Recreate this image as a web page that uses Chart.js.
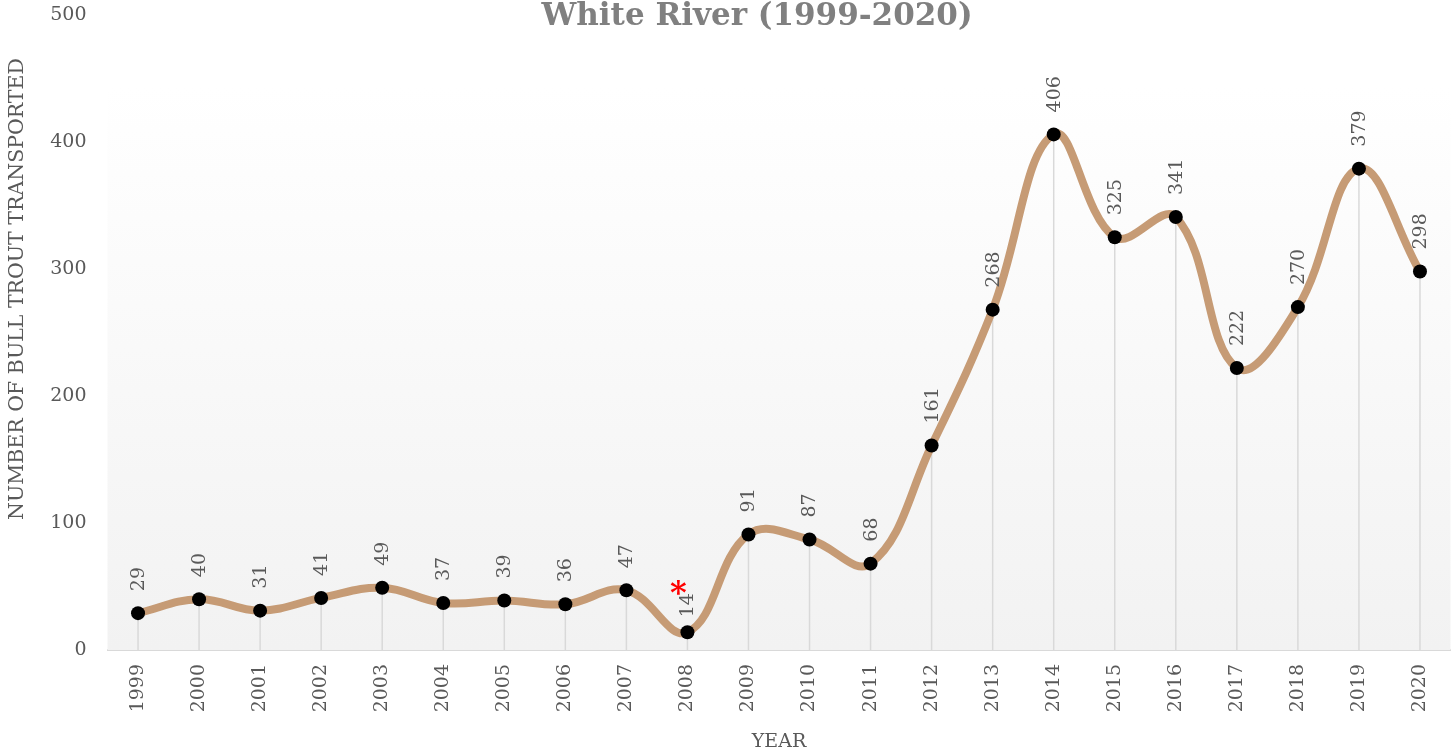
<!DOCTYPE html>
<html lang="en">

<head>
  <meta charset="UTF-8">
  <title>White River (1999-2020)</title>
  <script src="https://cdn.jsdelivr.net/npm/chart.js"></script>
  <style>
    html, body { margin: 0; padding: 0; background: #ffffff; }
    #wrap { width: 1456px; height: 755px; }
  </style>
</head>

<body>
  <div id="wrap"><canvas id="troutChart" width="1456" height="755"></canvas></div>

  <script>
    // Data
    const years = ['1999', '2000', '2001', '2002', '2003', '2004', '2005', '2006', '2007', '2008', '2009',
      '2010', '2011', '2012', '2013', '2014', '2015', '2016', '2017', '2018', '2019', '2020'];
    const troutCounts = [29, 40, 31, 41, 49, 37, 39, 36, 47, 14, 91, 87, 68, 161, 268, 406, 325, 341, 222, 270, 379, 298];
    const yTicks = [0, 100, 200, 300, 400, 500];
    const markedYears = ['2008']; // years flagged with a red asterisk

    const chartTitle = 'White River (1999-2020)';
    const yTitle = 'NUMBER OF BULL TROUT TRANSPORTED';
    const xTitle = 'YEAR';

    const FONT = '"DejaVu Serif", "Liberation Serif", serif';
    const TEXT = '#595959';

    // gradient plot background + drop lines from each point to the axis
    const backdrop = {
      id: 'backdrop',
      beforeDatasetsDraw(chart) {
        const { ctx, chartArea: a } = chart;
        const g = ctx.createLinearGradient(0, 87, 0, a.bottom);
        g.addColorStop(0, '#ffffff');
        g.addColorStop(1, '#f2f2f2');
        ctx.save();
        ctx.fillStyle = g;
        ctx.fillRect(a.left, 87, a.right - a.left, a.bottom - 87);
        ctx.strokeStyle = '#d9d9d9';
        ctx.lineWidth = 1.5;
        chart.getDatasetMeta(0).data.forEach(pt => {
          ctx.beginPath();
          ctx.moveTo(pt.x, pt.y);
          ctx.lineTo(pt.x, a.bottom);
          ctx.stroke();
        });
        ctx.restore();
      }
    };

    // rotated value labels, asterisk, chart title and y title
    const labels = {
      id: 'labels',
      afterDatasetsDraw(chart) {
        const { ctx } = chart;
        const meta = chart.getDatasetMeta(0);
        ctx.save();
        ctx.font = '19px ' + FONT;
        ctx.fillStyle = TEXT;
        meta.data.forEach((pt, i) => {
          const marked = markedYears.includes(years[i]);
          ctx.save();
          ctx.translate(pt.x, pt.y - (marked ? 15 : 22));
          ctx.rotate(-Math.PI / 2);
          ctx.textAlign = 'left';
          ctx.textBaseline = 'middle';
          ctx.fillText(String(troutCounts[i]), 0, 1);
          ctx.restore();
          if (marked) {
            ctx.save();
            ctx.fillStyle = '#ff0000';
            ctx.font = 'bold 32px ' + FONT;
            ctx.textAlign = 'center';
            ctx.textBaseline = 'middle';
            ctx.fillText('*', pt.x - 9, pt.y - 38);
            ctx.restore();
          }
        });
        ctx.restore();
      },
      afterDraw(chart) {
        const { ctx } = chart;
        ctx.save();
        ctx.fillStyle = '#808080';
        ctx.font = 'bold 31px ' + FONT;
        ctx.textAlign = 'center';
        ctx.textBaseline = 'alphabetic';
        ctx.fillText(chartTitle, 757, 25);

        ctx.fillStyle = TEXT;
        ctx.font = '20.5px ' + FONT;
        ctx.translate(18, 289);
        ctx.rotate(-Math.PI / 2);
        ctx.textBaseline = 'middle';
        ctx.fillText(yTitle, 0, 0);
        ctx.restore();
      }
    };

    const ctx = document.getElementById('troutChart').getContext('2d');
    const troutChart = new Chart(ctx, {
      type: 'line',
      data: {
        labels: years,
        datasets: [{
          label: 'Bull trout transported',
          data: troutCounts,
          borderColor: '#c69b75',
          borderWidth: 8,
          tension: 0.4,
          pointRadius: 7,
          pointHoverRadius: 7,
          pointBackgroundColor: '#000000',
          pointBorderColor: '#000000',
          pointBorderWidth: 0,
          fill: false
        }]
      },
      options: {
        responsive: false,
        animation: false,
        layout: { autoPadding: false, padding: { top: 15, right: 5.5, bottom: 0, left: 0 } },
        plugins: {
          legend: { display: false },
          tooltip: { enabled: false },
          title: { display: false }
        },
        scales: {
          x: {
            offset: true,
            grid: { display: false, drawTicks: false },
            border: { color: '#d9d9d9', width: 2 },
            ticks: {
              color: TEXT,
              font: { family: FONT, size: 19 },
              minRotation: 90,
              maxRotation: 90,
              padding: 14,
              autoSkip: false
            },
            title: {
              display: true,
              text: xTitle,
              color: TEXT,
              font: { family: FONT, size: 19 },
              padding: { top: 4, bottom: 2 }
            },
            afterFit(s) {
              s.height = 105;
              s.paddingTop = 0;
              s.paddingLeft = 0;
              s.paddingRight = 0;
            }
          },
          y: {
            min: 0,
            max: 500,
            afterBuildTicks(s) { s.ticks = yTicks.map(v => ({ value: v })); },
            grid: { display: false, drawTicks: false },
            border: { display: false },
            ticks: {
              color: TEXT,
              font: { family: FONT, size: 19 },
              padding: 21
            },
            afterFit(s) {
              s.width = 107.5;
              s.paddingTop = 0;
              s.paddingBottom = 0;
            }
          }
        }
      },
      plugins: [backdrop, labels]
    });
  </script>
</body>

</html>
